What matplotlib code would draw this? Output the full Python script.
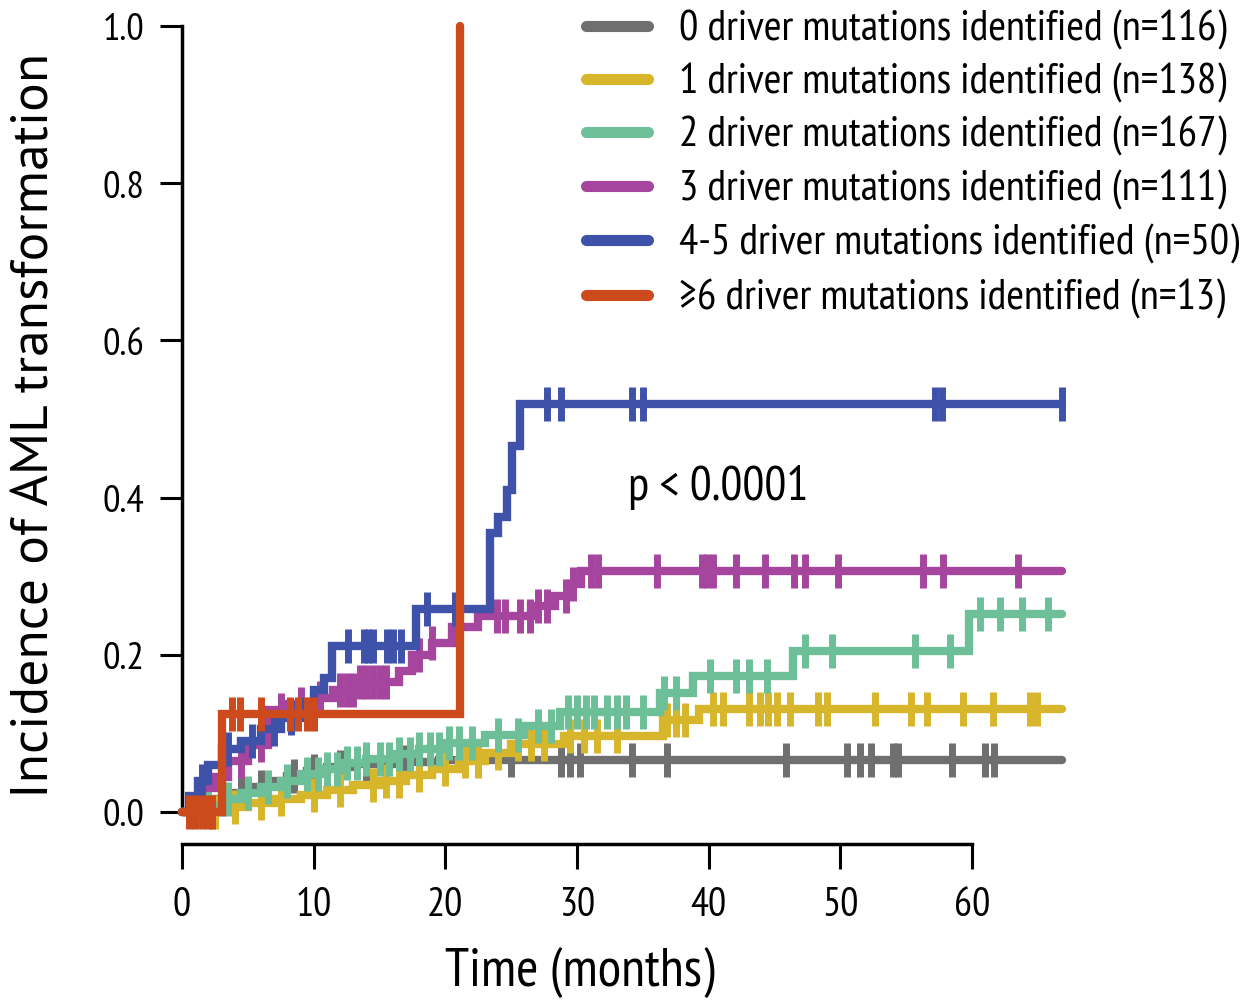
import numpy as np
import matplotlib
matplotlib.use("Agg")
import matplotlib.pyplot as plt
from matplotlib.lines import Line2D

NARROW = ['PT Sans Narrow', 'DejaVu Sans']
WIDE = ['PT Sans', 'DejaVu Sans']
plt.rcParams['font.family'] = NARROW

END = 66.8

labels = ["0 driver mutations identified (n=116)",
          "1 driver mutations identified (n=138)",
          "2 driver mutations identified (n=167)",
          "3 driver mutations identified (n=111)",
          "4-5 driver mutations identified (n=50)",
          "\u22656 driver mutations identified (n=13)"]
colors = ["#6f6f6f", "#d8b62c", "#6dbf98", "#a6459e", "#3f52a9", "#cc4a1c"]

t0 = [0, 1.0, 2.2, 3.5, 5.0, 6.5, 8.0, 9.5, 11.0, 13.0, 16.0, 19.5]
y0 = [0, 0.008, 0.016, 0.024, 0.032, 0.040, 0.046, 0.052, 0.057, 0.061, 0.064, 0.066]
c0 = [3, 4.5, 6, 8.5, 10, 12, 14, 17, 22.5, 25, 28.8, 29.5, 30.2, 34.2, 36.8,
      45.9, 50.5, 51.5, 52.3, 54.0, 54.4, 58.5, 61.0, 61.7]

t1 = [0, 3, 5, 7, 9, 11, 13, 15, 17, 19, 21, 23, 25, 29, 36.5, 39.3]
y1 = [0, 0.006, 0.012, 0.017, 0.022, 0.028, 0.034, 0.040, 0.047, 0.055, 0.065,
      0.075, 0.087, 0.097, 0.117, 0.131]
c1 = [2.5, 4, 6, 7.5, 10, 12, 14.5, 15.5, 16.5, 18, 20, 21.5, 22.5, 24, 25.5, 26.5,
      27.5, 29.5, 30.5, 31.5, 33, 36.8, 37.5, 38.2, 40.3, 41.1, 43.1, 43.9, 44.5,
      45.2, 46.2, 48.3, 49.0, 52.6, 55.4, 56.6, 59.3, 61.6, 64.4, 64.9]

t2 = [0, 1.5, 3, 4.5, 6, 7.5, 9, 10.5, 12, 14, 16, 18, 20, 23, 26, 28.7, 36.3,
      38.8, 46.4, 59.8]
y2 = [0, 0.008, 0.016, 0.024, 0.032, 0.040, 0.048, 0.055, 0.062, 0.068, 0.074,
      0.080, 0.088, 0.098, 0.110, 0.127, 0.152, 0.173, 0.205, 0.252]
c2 = [2, 3.5, 5, 6.5, 8, 9.5, 10.3, 11, 11.8, 12.5, 13.3, 14, 15, 15.7, 16.5, 17.3,
      18, 18.8, 19.5, 20.3, 21, 22, 24, 25.5, 27, 28, 29.3, 30, 30.7, 31.3, 32.3,
      33, 33.7, 35, 36.6, 37.5, 40.1, 42.1, 43.1, 44.4, 47.3, 49.4, 55.7, 58.3,
      60.6, 62.1, 63.8, 65.8]

t3 = [0, 0.7, 1.5, 2.5, 3.5, 5.0, 6.5, 8.0, 10.0, 11.5, 13.5, 16.5, 17.5, 19.0,
      20.5, 22.5, 26.5, 28.3, 29.3, 30.3]
y3 = [0, 0.015, 0.03, 0.045, 0.065, 0.085, 0.13, 0.138, 0.145, 0.155, 0.165, 0.18,
      0.2, 0.215, 0.235, 0.25, 0.262, 0.275, 0.29, 0.307]
c3 = [3, 4.5, 6, 7.5, 9, 10.5, 12, 12.5, 13, 13.5, 14, 14.5, 15, 15.5, 18, 19, 21,
      23.9, 24.5, 25.7, 26.4, 27, 27.7, 29.2, 29.7, 31.1, 31.6, 36.1, 39.5, 39.9,
      40.3, 42.1, 44.3, 46.5, 47.3, 49.8, 56.3, 57.8, 63.5]

t4 = [0, 0.5, 1.2, 2.0, 3.0, 4.5, 6.0, 7.5, 9.0, 10.0, 10.8, 11.4, 17.8, 23.4,
      24.0, 24.7, 25.1, 25.7]
y4 = [0, 0.02, 0.04, 0.06, 0.08, 0.09, 0.105, 0.12, 0.14, 0.155, 0.17, 0.211,
      0.258, 0.355, 0.375, 0.41, 0.466, 0.519]
c4 = [1.5, 3.5, 5.3, 7, 8.3, 12.6, 13.8, 14.1, 14.5, 15.6, 16.0, 16.6, 18.6, 20.7,
      27.7, 28.8, 34.2, 35.0, 57.2, 57.7, 66.8]

t5 = [0, 3.0, 21.1]
y5 = [0, 0.125, 1.0]
c5 = [0.5, 1.0, 1.5, 2.0, 2.3, 3.8, 4.4, 6.0, 8.2, 8.8, 9.5, 10.0]

series = [(t0, y0, c0), (t1, y1, c1), (t2, y2, c2), (t3, y3, c3), (t4, y4, c4),
          (t5, y5, c5)]
ends = [END, END, END, END, END, None]

W, H = 1253, 1004
fig = plt.figure(figsize=(W / 100, H / 100), dpi=100)
L, R, T, B = 160, 1080, 20, 845
ax = fig.add_axes([L / W, 1 - B / H, (R - L) / W, (B - T) / H])

pxm = (972 - 182) / 60.0
pxy = (813 - 27) / 1.0
ax.set_xlim(-(182 - L) / pxm, (R - 182) / pxm)
ax.set_ylim(-(B - 813) / pxy, 1 + (27 - T) / pxy)

for (t, y, c), col, e in zip(series, colors, ends):
    tt = list(t)
    yy = list(y)
    if e is not None:
        tt.append(e)
        yy.append(y[-1])
    ax.step(tt, yy, where='post', color=col, lw=6.0, solid_capstyle='round',
            solid_joinstyle='miter', zorder=3)
    ct = np.array(c)
    idx = np.searchsorted(np.array(t), ct, side='right') - 1
    cy = np.array(y)[idx]
    ax.plot(ct, cy, linestyle='none', marker='|', markersize=25,
            markeredgewidth=5.0, color=col, zorder=3)

for s in ['top', 'right']:
    ax.spines[s].set_visible(False)
ax.spines['left'].set_position(('data', 0))
ax.spines['left'].set_bounds(0, 1)
ax.spines['bottom'].set_bounds(0, 60)
for s in ['left', 'bottom']:
    ax.spines[s].set_linewidth(2.5)

ax.set_xticks([0, 10, 20, 30, 40, 50, 60])
ax.set_yticks([0.0, 0.2, 0.4, 0.6, 0.8, 1.0])
ax.set_yticklabels(["0.0", "0.2", "0.4", "0.6", "0.8", "1.0"])
ax.tick_params(axis='x', length=18, width=2.2, pad=12, labelsize=29)
ax.tick_params(axis='y', length=16, width=2.2, pad=11, labelsize=28)

fig.text(36 / W, 1 - 425 / H, "Incidence of AML transformation", rotation=90,
         ha='center', va='center', fontsize=38.5, family=WIDE)
fig.text(580 / W, 1 - 973 / H, "Time (months)", ha='center', va='center',
         fontsize=39)
fig.text(628 / W, 1 - 488 / H, "p < 0.0001", ha='left', va='center', fontsize=35)

rows = [27, 80, 133, 187, 241, 296]
for lab, col, ry in zip(labels, colors, rows):
    fig.add_artist(Line2D([586 / W, 648 / W], [1 - ry / H, 1 - ry / H],
                          transform=fig.transFigure, color=col, lw=8,
                          solid_capstyle='round'))
    fig.text(679 / W, 1 - (ry + 3) / H, lab, ha='left', va='center', fontsize=31)

fig.savefig("out.png", dpi=100)
